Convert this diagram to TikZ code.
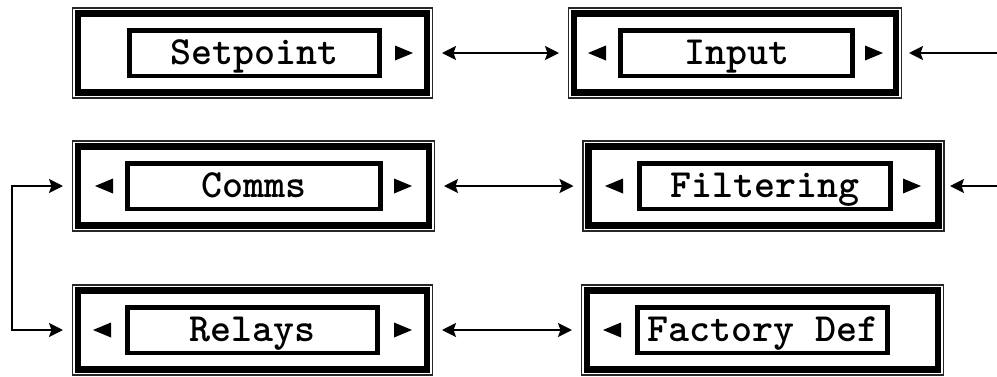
\documentclass[tikz,border=0pt]{standalone}
\usepackage{fontspec}
\newfontfamily\panelfont{lmmonolt10-bold}[Extension=.otf]
\usetikzlibrary{arrows.meta}

% small filled pointer triangles: #1 = x of the flat side / apex, #2 = y
\newcommand\tipright[2]{\fill (#1,#2-7.5) -- ++(18,7.5) -- ++(-18,7.5) -- cycle;}
\newcommand\tipleft[2]{\fill (#1,#2) -- ++(18,-7.5) -- ++(0,15) -- cycle;}
% thin rule running just outside a panel's heavy border
\newcommand\rim[1]{\draw[rimline] ([shift={(-5.5pt,5.5pt)}]#1.north west) rectangle ([shift={(5.5pt,-5.5pt)}]#1.south east);}

\tikzset{
  panel/.style={draw, line width=6.8pt, minimum height=79pt, inner sep=0pt,
                outer sep=0pt, minimum width=#1},
  rimline/.style={draw=black!85, line width=1.6pt},
  field/.style={draw, line width=4.5pt, minimum height=45.5pt, inner sep=0pt,
                outer sep=0pt, minimum width=#1,
                font=\panelfont\fontsize{40}{40}\selectfont,
                text height=23pt, text depth=0pt},
  head/.tip={Stealth[length=14pt,width=14pt,inset=2.5pt]},
  link/.style={line width=2pt, head-head, shorten <=15pt, shorten >=15pt},
  feed/.style={line width=2pt, -head, shorten >=13pt},
}

\begin{document}
\begin{tikzpicture}[x=1pt, y=-1pt]
\useasboundingbox[fill=white] (0,0) rectangle (997,376);

% ---- outer panels ----
\node[panel=349] (sp) at (252.5,53) {};
\node[panel=322] (in) at (735,53) {};
\node[panel=351] (co) at (253.5,186) {};
\node[panel=350] (fi) at (763.5,186) {};
\node[panel=349] (re) at (252.5,330) {};
\node[panel=351] (fd) at (762.5,330) {};
\rim{sp} \rim{in} \rim{co} \rim{fi} \rim{re} \rim{fd}

% ---- labelled fields ----
\node[field=250] (spt) at (254.5,53) {Setpoint};
\node[field=232] (int) at (736.5,53) {Input};
\node[field=253] (cot) at (254,186) {Comms};
\node[field=251] (fit) at (765,186) {Filtering};
\node[field=250] (ret) at (252.5,330) {Relays};
\node[field=250] (fdt) at (762.5,330) {Factory Def};

% ---- scroll pointers ----
\tipright{395}{53}
\tipleft{588}{53}  \tipright{865}{53}
\tipleft{95}{186}  \tipright{394}{186}
\tipleft{605}{186} \tipright{903}{186}
\tipleft{93}{330}  \tipright{394}{330}
\tipleft{603}{330}

% ---- connectors ----
\draw[link] (sp.east) -- (in.west);
\draw[link] (co.east) -- (fi.west);
\draw[link] (re.east) -- (fd.west);

\coordinate (feedA) at (997,53);
\coordinate (feedB) at (997,186);
\draw[feed] (feedA) -- (in.east);
\draw[feed, shorten >=11.5pt] (feedB) -- (fi.east);

\draw[link] (co.west) -- ++(-66,0) |- (re.west);
\end{tikzpicture}
\end{document}
